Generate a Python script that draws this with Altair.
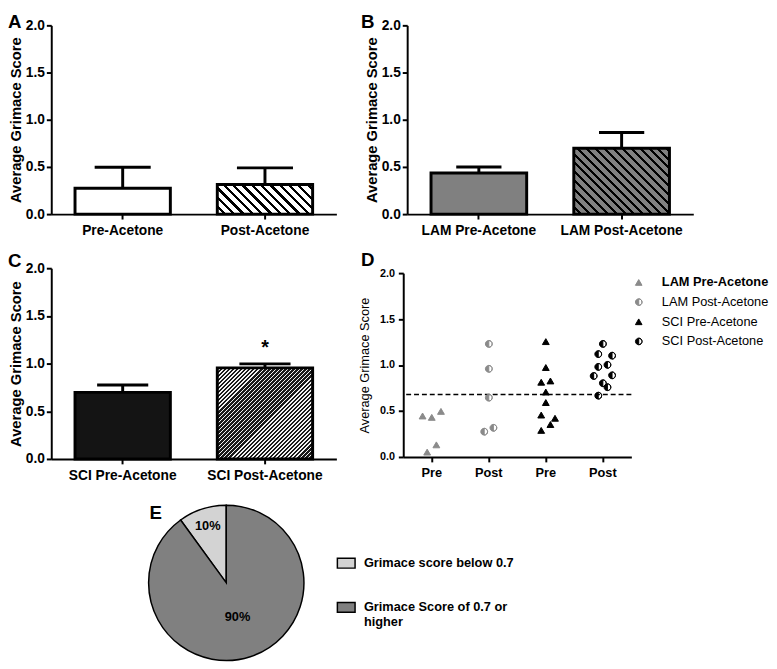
import json
import math
import altair as alt
import pandas as pd

FONT = "Liberation Sans"

# ---------------- data ----------------
y_ticks = [0, 0.5, 1.0, 1.5, 2.0]

a_cats = ["Pre-Acetone", "Post-Acetone"]
a_mean = [0.275, 0.313]
a_upper = [0.497, 0.490]

b_cats = ["LAM Pre-Acetone", "LAM Post-Acetone"]
b_mean = [0.435, 0.698]
b_upper = [0.500, 0.865]

c_cats = ["SCI Pre-Acetone", "SCI Post-Acetone"]
c_mean = [0.698, 0.955]
c_upper = [0.776, 0.997]
c_sig = ["", "*"]

d_groups = ["LAM Pre-Acetone", "LAM Post-Acetone", "SCI Pre-Acetone", "SCI Post-Acetone"]
d_ticks = ["Pre", "Post", "Pre", "Post"]
lam_pre = [0.446, 0.431, 0.496, 0.132, 0.053]
lam_pre_jit = [-2, 0, 2, 1, -1]
lam_post = [1.230, 0.959, 0.645, 0.275, 0.317]
lam_post_jit = [0, 0, 0, -1, 1]
sci_pre = [1.255, 0.973, 0.813, 0.827, 0.706, 0.592, 0.456, 0.421, 0.353, 0.289]
sci_pre_jit = [0, 0, -1, 1, 0, 0, -1, 2, 1, -1]
sci_post = [1.230, 1.119, 1.102, 0.980, 1.002, 0.881, 0.888, 0.802, 0.759, 0.667]
sci_post_jit = [0, -1, 2, -1, 1, -2, 2, 0, 1, -1]
threshold = 0.68

e_cats = ["Grimace score below 0.7", "Grimace Score of 0.7 or higher"]
e_share = [10, 90]

# ---------------- layout / style ----------------
W_BAR = 290
H_ROW1 = 192
H_C = 194
W_B = 295
B_RANGE = [4, 295]
W_D = 232
H_D = 192
W_E = 290
H_E = 150
PI, PO = 0.33, 0.167

GRAY = "#808080"
LIGHT = "#d3d3d3"


def band_width(w_range, n):
    step = w_range / (n - PI + 2 * PO)
    return step * (1 - PI)


def hatch(w, h, period, frac, bg, fg, direction):
    k = (w + h) / (w * w + h * h)
    if direction == "back":
        x1, y1, x2, y2 = 0, 1, k * w, 1 - k * h
    else:
        x1, y1, x2, y2 = 0, 0, k * w, k * h
    n = (w + h) / math.sqrt(2) / period
    stops = []
    i = 0
    while i < n:
        a = i / n
        b = min((i + 1 - frac) / n, 1)
        c = min((i + 1) / n, 1)
        stops += [
            {"offset": round(a, 5), "color": bg},
            {"offset": round(b, 5), "color": bg},
            {"offset": round(b, 5), "color": fg},
            {"offset": round(c, 5), "color": fg},
        ]
        i += 1
    return {"gradient": "linear", "x1": x1, "y1": y1, "x2": x2, "y2": y2, "stops": stops}


def y_axis_bar(offset=0):
    return alt.Axis(values=y_ticks, format=".1f", title="Average Grimace Score",
                    titleFontSize=15, titleFontWeight="bold", labelFontSize=14,
                    labelFontWeight="bold", labelPadding=2, titlePadding=2,
                    tickSize=5, offset=offset, grid=False)


def letter_layer(letter, lx, ly):
    return alt.Chart(pd.DataFrame({"t": [letter]})).mark_text(
        align="left", baseline="alphabetic", fontSize=19, fontWeight="bold", color="black"
    ).encode(text="t:N", x=alt.value(lx), y=alt.value(ly))


def bar_panel(df, cats, fills, width, height, cap, letter, lxy, bw, x_range=None, y_offset=0,
              sig=False):
    sc = dict(type="band", domain=cats, paddingInner=PI, paddingOuter=PO)
    if x_range is not None:
        sc["range"] = x_range
    x = alt.X("cat:N", scale=alt.Scale(**sc),
              axis=alt.Axis(title=None, labelAngle=0, labelFontSize=14, labelFontWeight="bold",
                            labelPadding=5, tickSize=5))
    ysc = alt.Scale(domain=[0, 2])
    yax = y_axis_bar(y_offset)
    base = alt.Chart(df)
    layers = []
    for cat, fill in zip(cats, fills):
        layers.append(
            base.transform_filter(alt.FieldEqualPredicate(field="cat", equal=cat))
            .mark_bar(fill=fill, stroke="black", strokeWidth=3, width=bw)
            .encode(x=x, y=alt.Y("mean:Q", scale=ysc, axis=yax))
        )
    layers.append(base.mark_rule(color="black", strokeWidth=3).encode(
        x=x, y=alt.Y("mean:Q", scale=ysc, axis=yax), y2="upper:Q"))
    layers.append(base.mark_tick(color="black", thickness=3, size=cap, opacity=1).encode(
        x=x, y=alt.Y("upper:Q", scale=ysc, axis=yax)))
    if sig:
        layers.append(base.mark_text(dy=-10, baseline="alphabetic", fontSize=20,
                                     fontWeight="bold", color="black").encode(
            x=x, y=alt.Y("upper:Q", scale=ysc, axis=yax), text="sig:N"))
    layers.append(letter_layer(letter, *lxy))
    return alt.layer(*layers).properties(width=width, height=height)


# ---------------- panel A ----------------
a_df = pd.DataFrame({"cat": a_cats, "mean": a_mean, "upper": a_upper})
a_bw = band_width(W_BAR, 2)
a_fill_post = hatch(a_bw, a_mean[1] / 2 * H_ROW1, 6.7, 0.34, "#ffffff", "#000000", "back")
panel_a = bar_panel(a_df, a_cats, ["#ffffff", a_fill_post], W_BAR, H_ROW1, 57, "A", (-44, 3), a_bw)

# ---------------- panel B ----------------
b_df = pd.DataFrame({"cat": b_cats, "mean": b_mean, "upper": b_upper})
b_bw = band_width(B_RANGE[1] - B_RANGE[0], 2)
b_fill_post = hatch(b_bw, b_mean[1] / 2 * H_ROW1, 6.4, 0.34, GRAY, "#000000", "back")
panel_b = bar_panel(b_df, b_cats, [GRAY, b_fill_post], W_B, H_ROW1, 46, "B", (-43, 3), b_bw,
                    x_range=B_RANGE, y_offset=-4)

# ---------------- panel C ----------------
c_df = pd.DataFrame({"cat": c_cats, "mean": c_mean, "upper": c_upper, "sig": c_sig})
c_bw = band_width(W_BAR, 2)
c_fill_post = hatch(c_bw, c_mean[1] / 2 * H_C, 2.9, 0.38, "#1a1a1a", "#f2f2f2", "fwd")
panel_c = bar_panel(c_df, c_cats, ["#141414", c_fill_post], W_BAR, H_C, 52, "C", (-44, -1), c_bw,
                    sig=True)

# ---------------- panel D ----------------
rows = []
for g, vals, jit in [(d_groups[0], lam_pre, lam_pre_jit), (d_groups[1], lam_post, lam_post_jit),
                     (d_groups[2], sci_pre, sci_pre_jit), (d_groups[3], sci_post, sci_post_jit)]:
    for v, j in zip(vals, jit):
        rows.append({"group": g, "score": v, "jit": j})
d_df = pd.DataFrame(rows)

HALF = "M0,-1A1,1,0,0,0,0,1Z M0,-1A1,1,0,0,1,0,1A1,1,0,0,0,0,-1Z"
d_shapes = ["triangle-up", HALF, "triangle-up", HALF]
d_colors = ["#8a8a8a", "#8a8a8a", "#000000", "#000000"]

label_expr = f"{json.dumps(d_ticks)}[indexof({json.dumps(d_groups)}, datum.value)]"
d_x = alt.X("group:N", scale=alt.Scale(domain=d_groups, paddingInner=0, paddingOuter=0),
            axis=alt.Axis(title=None, labelExpr=label_expr, labelAngle=0, labelFontSize=13,
                          labelFontWeight="bold", labelPadding=5, tickSize=5))
d_ysc = alt.Scale(domain=[0, 2], range=[H_D, 5])
d_yax = alt.Axis(values=y_ticks, format=".1f", title="Average Grimace Score", titleFontSize=13,
                 titleFontWeight="normal", labelFontSize=11, labelFontWeight="bold",
                 labelPadding=4, titlePadding=8, tickSize=5, grid=False)


def d_legend():
    return alt.Legend(title=None, orient="none", legendX=233, legendY=8, padding=0,
                      symbolSize=45, symbolStrokeWidth=1, labelFontSize=13, labelOffset=17,
                      rowPadding=6, labelLimit=300, labelColor="black",
                      labelFontWeight=alt.ExprRef("datum.label == 'LAM Pre-Acetone' ? 'bold' : 'normal'"))


points = alt.Chart(d_df).mark_point(filled=True, size=48, strokeWidth=1, opacity=1).encode(
    x=d_x,
    y=alt.Y("score:Q", scale=d_ysc, axis=d_yax),
    xOffset=alt.XOffset("jit:Q", scale=alt.Scale(domain=[-6.2, 6.2], range=[0, W_D / 4])),
    color=alt.Color("group:N", scale=alt.Scale(domain=d_groups, range=d_colors), legend=d_legend()),
    stroke=alt.Stroke("group:N", scale=alt.Scale(domain=d_groups, range=d_colors), legend=d_legend()),
    shape=alt.Shape("group:N", scale=alt.Scale(domain=d_groups, range=d_shapes), legend=d_legend()),
)
thr = alt.Chart(pd.DataFrame({"thr": [threshold]})).mark_rule(
    color="black", strokeWidth=1.5, strokeDash=[5, 3]
).encode(y=alt.Y("thr:Q", scale=d_ysc, axis=d_yax))
panel_d = alt.layer(thr, points, letter_layer("D", -43, -2)).properties(width=W_D, height=H_D)

# ---------------- panel E ----------------
e_df = pd.DataFrame({"cat": e_cats, "share": e_share})
PCX, PCY, PR = 178, 71, 79
theta_scale = alt.Scale(domain=[0, 100], range=[0, 2 * math.pi])
e_base = alt.Chart(e_df).transform_window(
    cum="sum(share)", sort=[alt.SortField("share", order="descending")]
).transform_calculate(
    start="datum.cum - datum.share", mid="datum.cum - datum.share / 2",
    lbl="datum.share + '%'", r="datum.share < 50 ? 61 : 37",
).encode(x=alt.value(PCX), y=alt.value(PCY))
pie = e_base.mark_arc(outerRadius=PR, stroke="black", strokeWidth=1.5).encode(
    theta=alt.Theta("start:Q", scale=theta_scale, stack=None),
    theta2="cum:Q",
    color=alt.Color("cat:N", scale=alt.Scale(domain=e_cats, range=[LIGHT, GRAY]),
                    legend=alt.Legend(
                        title=None, orient="none", legendX=290, legendY=41, padding=0,
                        symbolType="M-1,-0.56H1V0.56H-1Z", symbolSize=324,
                        symbolStrokeColor="black", symbolStrokeWidth=1.5,
                        labelFontSize=13, labelFontWeight="bold", labelOffset=8,
                        rowPadding=26, labelLimit=300, labelColor="black",
                        labelExpr="datum.label == 'Grimace Score of 0.7 or higher' ? "
                                  "['Grimace Score of 0.7 or', 'higher'] : datum.label"))
)
pct = e_base.mark_text(fontSize=13, fontWeight="bold", color="black").encode(
    theta=alt.Theta("mid:Q", scale=theta_scale, stack=None),
    radius=alt.Radius("r:Q", scale=None),
    text="lbl:N")
panel_e = alt.layer(pie, pct, letter_layer("E", 100, 6)).properties(width=W_E, height=H_E)

# ---------------- assemble ----------------
chart = alt.concat(
    panel_a, panel_b, panel_c, panel_d, panel_e,
    columns=2, spacing={"row": 55, "column": 68}, bounds="flush", align="each",
    padding=0,
).configure(font=FONT).configure_view(stroke=None).configure_axis(
    domainColor="black", domainWidth=2, tickColor="black", tickWidth=2,
    labelColor="black", titleColor="black", grid=False,
).resolve_scale(color="independent", shape="independent", stroke="independent")

chart.save("out.html", embed_options={"renderer": "svg", "actions": False})
